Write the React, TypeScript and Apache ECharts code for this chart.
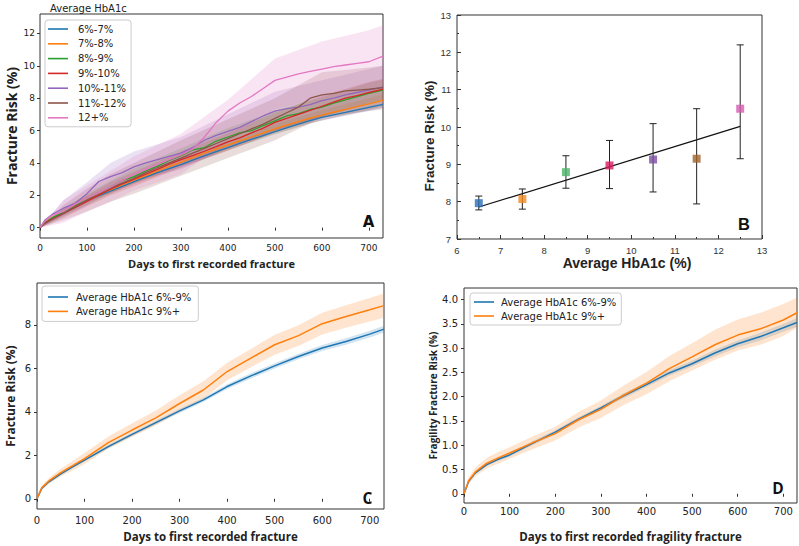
import React, { useEffect, useRef } from "react";
import * as echarts from "echarts";

// ---------- Panel A: fracture risk by HbA1c band ----------
const A_NAMES = ["6%-7%", "7%-8%", "8%-9%", "9%-10%", "10%-11%", "11%-12%", "12+%"];
const A_COLORS = ["#1f77b4", "#ff7f0e", "#2ca02c", "#d62728", "#9467bd", "#8c564b", "#e377c2"];
const A_DAYS = [0, 10, 25, 50, 75, 100, 125, 150, 175, 200, 225, 250, 275, 300, 325, 350, 375, 400, 425, 450, 475, 500, 525, 550, 575, 600, 625, 650, 675, 700, 730];
const A_6_7 = [0, 0.3, 0.58, 0.9, 1.3, 1.7, 1.98, 2.26, 2.55, 2.84, 3.12, 3.4, 3.65, 3.9, 4.17, 4.44, 4.69, 4.94, 5.2, 5.45, 5.69, 5.93, 6.17, 6.4, 6.61, 6.81, 6.97, 7.12, 7.28, 7.43, 7.61];
const A_7_8 = [0, 0.32, 0.62, 0.95, 1.36, 1.75, 2.05, 2.35, 2.65, 2.95, 3.22, 3.5, 3.78, 4.05, 4.33, 4.6, 4.85, 5.1, 5.36, 5.6, 5.85, 6.1, 6.33, 6.55, 6.76, 6.95, 7.13, 7.3, 7.48, 7.65, 7.86];
const A_8_9 = [0, 0.3, 0.6, 0.95, 1.35, 1.8, 2.1, 2.5, 2.9, 3.15, 3.5, 3.8, 4.15, 4.45, 4.8, 4.95, 5.35, 5.6, 5.85, 6.0, 6.3, 6.6, 6.9, 7.05, 7.3, 7.45, 7.7, 7.9, 8.1, 8.3, 8.5];
const A_9_10 = [0, 0.28, 0.52, 0.88, 1.25, 1.62, 2.0, 2.38, 2.7, 3.0, 3.3, 3.6, 3.92, 4.2, 4.45, 4.72, 5.0, 5.3, 5.55, 5.85, 6.15, 6.5, 6.75, 7.0, 7.25, 7.5, 7.75, 8.0, 8.15, 8.35, 8.56];
const A_10_11 = [0, 0.45, 0.8, 1.2, 1.5, 2.1, 2.85, 3.15, 3.4, 3.75, 4.0, 4.2, 4.4, 4.6, 4.95, 5.4, 5.7, 5.95, 6.2, 6.55, 6.9, 7.2, 7.35, 7.45, 7.6, 7.85, 8.0, 8.2, 8.35, 8.5, 8.7];
const A_11_12 = [0, 0.25, 0.5, 0.9, 1.3, 1.7, 2.1, 2.45, 2.75, 3.05, 3.4, 3.7, 4.0, 4.3, 4.6, 4.9, 5.2, 5.5, 5.8, 6.1, 6.4, 6.75, 7.1, 7.45, 8.0, 8.2, 8.3, 8.45, 8.5, 8.55, 8.65];
const A_12P = [0, 0.4, 0.75, 1.0, 1.45, 1.8, 2.15, 2.5, 2.9, 3.3, 3.6, 3.9, 4.2, 4.5, 4.85, 5.6, 6.5, 7.2, 7.7, 8.1, 8.6, 9.1, 9.3, 9.5, 9.65, 9.8, 9.95, 10.05, 10.15, 10.25, 10.6];

const A_BAND_DAYS = [0, 50, 100, 150, 200, 300, 400, 500, 600, 700, 730];
const A_LO_6_7 = [0, 0.8, 1.58, 2.12, 2.7, 3.75, 4.78, 5.77, 6.64, 7.25, 7.42];
const A_HI_6_7 = [0, 1.0, 1.82, 2.4, 2.98, 4.05, 5.1, 6.09, 6.98, 7.61, 7.8];
const A_LO_7_8 = [0, 0.8, 1.55, 2.12, 2.7, 3.78, 4.82, 5.8, 6.63, 7.3, 7.5];
const A_HI_7_8 = [0, 1.1, 1.95, 2.58, 3.2, 4.32, 5.38, 6.4, 7.27, 8.0, 8.22];
const A_LO_8_9 = [0, 0.7, 1.4, 2.1, 2.75, 3.9, 5.05, 6.0, 6.85, 7.65, 7.85];
const A_HI_8_9 = [0, 1.2, 2.1, 2.9, 3.65, 4.9, 6.15, 7.2, 8.05, 8.95, 9.15];
const A_LO_9_10 = [0, 0.6, 1.3, 2.0, 2.55, 3.7, 4.75, 5.9, 6.85, 7.7, 7.9];
const A_HI_9_10 = [0, 1.2, 2.0, 2.8, 3.45, 4.7, 5.85, 7.1, 8.15, 9.0, 9.2];
const A_LO_10_11 = [0, 0.7, 1.4, 2.3, 2.9, 3.6, 4.9, 6.0, 6.6, 7.2, 7.4];
const A_HI_10_11 = [0, 1.7, 2.8, 4.0, 4.7, 5.6, 7.0, 8.4, 9.1, 9.8, 10.0];
const A_LO_11_12 = [0, 0.45, 1.0, 1.6, 2.1, 3.2, 4.3, 5.4, 6.8, 7.2, 7.3];
const A_HI_11_12 = [0, 1.4, 2.4, 3.3, 4.0, 5.4, 6.7, 8.0, 9.6, 9.9, 10.0];
const A_LO_12P = [0, 0.3, 1.0, 1.6, 2.3, 3.3, 5.4, 7.3, 8.0, 8.5, 8.8];
const A_HI_12P = [0, 1.7, 2.6, 3.5, 4.4, 5.8, 7.9, 10.45, 11.5, 12.2, 12.5];

const A_LINES = [A_6_7, A_7_8, A_8_9, A_9_10, A_10_11, A_11_12, A_12P];
const A_LOWS = [A_LO_6_7, A_LO_7_8, A_LO_8_9, A_LO_9_10, A_LO_10_11, A_LO_11_12, A_LO_12P];
const A_HIGHS = [A_HI_6_7, A_HI_7_8, A_HI_8_9, A_HI_9_10, A_HI_10_11, A_HI_11_12, A_HI_12P];
const A_X_TICKS = [0, 100, 200, 300, 400, 500, 600, 700];
const A_Y_TICKS = [0, 2, 4, 6, 8, 10, 12];

// ---------- Panel B: risk vs average HbA1c ----------
const B_X = [6.5, 7.5, 8.5, 9.5, 10.5, 11.5, 12.5];
const B_RISK = [7.96, 8.07, 8.79, 8.97, 9.13, 9.15, 10.49];
const B_ERR_LOW = [7.78, 7.8, 8.36, 8.35, 8.26, 7.94, 9.15];
const B_ERR_HIGH = [8.15, 8.34, 9.23, 9.64, 10.09, 10.49, 12.2];
const B_COLORS = ["#2a6db5", "#f28a1e", "#4cb46a", "#d81b60", "#7d4ea3", "#a0642c", "#d45bb0"];

// ---------- Panels C and D ----------
const CD_NAMES = ["Average HbA1c 6%-9%", "Average HbA1c 9%+"];
const CD_COLORS = ["#1f77b4", "#ff7f0e"];
const CD_DAYS = [0, 10, 25, 50, 75, 100, 150, 200, 250, 300, 350, 400, 450, 500, 550, 600, 650, 700, 730];
const C_LOW_HBA = [0, 0.48, 0.78, 1.14, 1.47, 1.78, 2.4, 2.96, 3.5, 4.04, 4.55, 5.16, 5.65, 6.11, 6.54, 6.93, 7.23, 7.57, 7.8];
const C_HIGH_HBA = [0, 0.5, 0.82, 1.2, 1.52, 1.85, 2.58, 3.16, 3.72, 4.38, 5.0, 5.85, 6.47, 7.08, 7.5, 8.05, 8.38, 8.69, 8.88];
const C_LOW_HBA_LO = [0, 0.43, 0.73, 1.08, 1.41, 1.71, 2.32, 2.88, 3.41, 3.94, 4.45, 5.05, 5.53, 5.99, 6.41, 6.79, 7.08, 7.42, 7.64];
const C_LOW_HBA_HI = [0, 0.53, 0.83, 1.2, 1.53, 1.85, 2.48, 3.04, 3.59, 4.14, 4.65, 5.27, 5.77, 6.23, 6.67, 7.07, 7.38, 7.72, 7.96];
const C_HIGH_HBA_LO = [0, 0.4, 0.68, 1.02, 1.3, 1.6, 2.3, 2.85, 3.38, 4.0, 4.6, 5.45, 6.05, 6.62, 7.02, 7.55, 7.86, 8.15, 8.32];
const C_HIGH_HBA_HI = [0, 0.6, 0.96, 1.38, 1.74, 2.1, 2.86, 3.47, 4.06, 4.76, 5.4, 6.25, 6.89, 7.54, 7.98, 8.55, 8.9, 9.23, 9.44];
const C_Y_TICKS = [0, 2, 4, 6, 8];

const D_LOW_HBA = [0, 0.25, 0.43, 0.6, 0.71, 0.8, 1.04, 1.27, 1.53, 1.77, 2.02, 2.25, 2.49, 2.68, 2.9, 3.09, 3.24, 3.42, 3.53];
const D_HIGH_HBA = [0, 0.27, 0.45, 0.63, 0.74, 0.84, 1.05, 1.24, 1.52, 1.74, 2.03, 2.28, 2.58, 2.82, 3.07, 3.27, 3.4, 3.58, 3.73];
const D_LOW_HBA_LO = [0, 0.23, 0.4, 0.57, 0.68, 0.77, 1.0, 1.23, 1.49, 1.73, 1.97, 2.2, 2.43, 2.62, 2.83, 3.02, 3.16, 3.34, 3.44];
const D_LOW_HBA_HI = [0, 0.27, 0.46, 0.63, 0.74, 0.83, 1.08, 1.31, 1.57, 1.81, 2.07, 2.3, 2.55, 2.74, 2.97, 3.16, 3.32, 3.5, 3.62];
const D_HIGH_HBA_LO = [0, 0.2, 0.36, 0.52, 0.62, 0.72, 0.92, 1.1, 1.36, 1.56, 1.83, 2.05, 2.32, 2.54, 2.76, 2.95, 3.07, 3.25, 3.42];
const D_HIGH_HBA_HI = [0, 0.34, 0.54, 0.74, 0.86, 0.96, 1.18, 1.38, 1.68, 1.92, 2.23, 2.51, 2.84, 3.1, 3.38, 3.59, 3.73, 3.91, 4.04];
const D_Y_TICKS = [0, 0.5, 1, 1.5, 2, 2.5, 3, 3.5, 4];

const MPL_FONT = "DejaVu Sans";
const TITLE_FONT = "Open Sans";
const ARIAL = "Liberation Sans";
const INK = "#222";

function band(idx: number, days: number[], lo: number[], hi: number[], color: string, opacity: number) {
  return {
    type: "custom",
    xAxisIndex: idx,
    yAxisIndex: idx,
    silent: true,
    z: 1,
    data: [[days[0], lo[0]]],
    renderItem: (_p: any, api: any) => {
      const pts: number[][] = [];
      for (let i = 0; i < days.length; i++) pts.push(api.coord([days[i], hi[i]]));
      for (let i = days.length - 1; i >= 0; i--) pts.push(api.coord([days[i], lo[i]]));
      return { type: "polygon", shape: { points: pts }, style: { fill: color, opacity } };
    },
  };
}

function line(idx: number, name: string, days: number[], vals: number[], color: string, width: number) {
  return {
    type: "line",
    name,
    xAxisIndex: idx,
    yAxisIndex: idx,
    data: days.map((d, i) => [d, vals[i]]),
    symbol: "none",
    showSymbol: false,
    lineStyle: { width, color },
    itemStyle: { color },
    z: 3,
  };
}

function mplX(idx: number, name: string, nameGap: number, nameSize: number, labelSize: number, margin: number) {
  return {
    type: "value",
    gridIndex: idx,
    min: 0,
    max: 730,
    name,
    nameLocation: "middle",
    nameGap,
    nameTextStyle: { fontFamily: TITLE_FONT, fontWeight: "bold", fontSize: nameSize, color: INK },
    axisLine: { show: false },
    axisTick: { show: true, length: 3, lineStyle: { color: "#333" }, customValues: A_X_TICKS },
    axisLabel: { fontFamily: MPL_FONT, fontSize: labelSize, color: INK, margin, customValues: A_X_TICKS },
    splitLine: { show: false },
  };
}

function mplY(idx: number, min: number, max: number, ticks: number[], name: string, nameGap: number, nameSize: number, labelSize: number, margin: number, fmt?: (v: number) => string) {
  return {
    type: "value",
    gridIndex: idx,
    min,
    max,
    name,
    nameLocation: "middle",
    nameGap,
    nameTextStyle: { fontFamily: TITLE_FONT, fontWeight: "bold", fontSize: nameSize, color: INK },
    axisLine: { show: false },
    axisTick: { show: true, length: 3, lineStyle: { color: "#333" }, customValues: ticks },
    axisLabel: { fontFamily: MPL_FONT, fontSize: labelSize, color: INK, margin, customValues: ticks, formatter: fmt },
    splitLine: { show: false },
  };
}

function legendBox(names: string[], left: number, top: number, padding: number[], itemGap: number, textPad: number) {
  return {
    data: names,
    left,
    top,
    orient: "vertical",
    icon: "rect",
    itemWidth: 20,
    itemHeight: 1.6,
    itemGap,
    padding,
    borderColor: "#cccccc",
    borderWidth: 1,
    borderRadius: 3,
    backgroundColor: "rgba(255,255,255,0.85)",
    selectedMode: false,
    textStyle: { fontFamily: MPL_FONT, fontSize: 10, color: INK, lineHeight: 12, padding: [0, 0, 0, textPad] },
  };
}

function buildOption() {
  // regression line for panel B (least squares through the plotted means)
  const n = B_X.length;
  const mx = B_X.reduce((s, v) => s + v, 0) / n;
  const my = B_RISK.reduce((s, v) => s + v, 0) / n;
  let sxy = 0;
  let sxx = 0;
  for (let i = 0; i < n; i++) {
    sxy += (B_X[i] - mx) * (B_RISK[i] - my);
    sxx += (B_X[i] - mx) * (B_X[i] - mx);
  }
  const slope = sxy / sxx;
  const icpt = my - slope * mx;
  const fitX = [B_X[0], B_X[n - 1]];

  const series: any[] = [];
  // Panel A
  A_NAMES.forEach((nm, i) => series.push(band(0, A_BAND_DAYS, A_LOWS[i], A_HIGHS[i], A_COLORS[i], 0.2)));
  A_NAMES.forEach((nm, i) => series.push(line(0, nm, A_DAYS, A_LINES[i], A_COLORS[i], 1.3)));

  // Panel B
  series.push({
    type: "line",
    xAxisIndex: 1,
    yAxisIndex: 1,
    data: fitX.map((x) => [x, icpt + slope * x]),
    symbol: "none",
    lineStyle: { color: "#111", width: 1.2 },
    z: 2,
  });
  series.push({
    type: "custom",
    xAxisIndex: 1,
    yAxisIndex: 1,
    z: 3,
    data: B_X.map((x, i) => [x, B_ERR_LOW[i], B_ERR_HIGH[i]]),
    encode: { x: 0, y: [1, 2] },
    renderItem: (_p: any, api: any) => {
      const x = api.value(0);
      const lo = api.coord([x, api.value(1)]);
      const hi = api.coord([x, api.value(2)]);
      const w = 3.5;
      const st = { stroke: "#222", lineWidth: 1 };
      return {
        type: "group",
        children: [
          { type: "line", shape: { x1: lo[0], y1: lo[1], x2: hi[0], y2: hi[1] }, style: st },
          { type: "line", shape: { x1: lo[0] - w, y1: lo[1], x2: lo[0] + w, y2: lo[1] }, style: st },
          { type: "line", shape: { x1: hi[0] - w, y1: hi[1], x2: hi[0] + w, y2: hi[1] }, style: st },
        ],
      };
    },
  });
  series.push({
    type: "scatter",
    xAxisIndex: 1,
    yAxisIndex: 1,
    symbol: "rect",
    symbolSize: 8,
    z: 4,
    data: B_X.map((x, i) => ({ value: [x, B_RISK[i]], itemStyle: { color: B_COLORS[i] } })),
  });

  // Panel C
  series.push(band(2, CD_DAYS, C_LOW_HBA_LO, C_LOW_HBA_HI, CD_COLORS[0], 0.2));
  series.push(band(2, CD_DAYS, C_HIGH_HBA_LO, C_HIGH_HBA_HI, CD_COLORS[1], 0.2));
  series.push(line(2, CD_NAMES[0], CD_DAYS, C_LOW_HBA, CD_COLORS[0], 1.5));
  series.push(line(2, CD_NAMES[1], CD_DAYS, C_HIGH_HBA, CD_COLORS[1], 1.5));

  // Panel D
  series.push(band(3, CD_DAYS, D_LOW_HBA_LO, D_LOW_HBA_HI, CD_COLORS[0], 0.2));
  series.push(band(3, CD_DAYS, D_HIGH_HBA_LO, D_HIGH_HBA_HI, CD_COLORS[1], 0.2));
  series.push(line(3, CD_NAMES[0], CD_DAYS, D_LOW_HBA, CD_COLORS[0], 1.5));
  series.push(line(3, CD_NAMES[1], CD_DAYS, D_HIGH_HBA, CD_COLORS[1], 1.5));

  const frame = { show: true, borderColor: "#333", borderWidth: 1, backgroundColor: "transparent" };

  return {
    animation: false,
    backgroundColor: "#ffffff",
    title: [
      { text: "Average HbA1c", left: 50, top: 1, padding: 0, textStyle: { fontFamily: MPL_FONT, fontSize: 10, fontWeight: "normal", color: INK, lineHeight: 14 } },
    ],
    grid: [
      { left: 40, top: 14, width: 343, height: 224, ...frame },
      { left: 457, top: 15, width: 305, height: 224, ...frame },
      { left: 37, top: 283, width: 347, height: 226, ...frame },
      { left: 464, top: 288, width: 333, height: 215, ...frame },
    ],
    xAxis: [
      mplX(0, "Days to first recorded fracture", 20, 11, 9, 5),
      {
        type: "value",
        gridIndex: 1,
        min: 6,
        max: 13,
        interval: 1,
        name: "Average HbA1c (%)",
        nameLocation: "middle",
        nameGap: 17,
        nameTextStyle: { fontFamily: ARIAL, fontWeight: "bold", fontSize: 14, color: INK, padding: [0, 0, 0, 35] },
        axisLine: { show: false },
        axisTick: { show: true, inside: true, length: 4, lineStyle: { color: "#333" } },
        minorTick: { show: true, splitNumber: 2, length: 2, lineStyle: { color: "#333" } },
        axisLabel: { fontFamily: ARIAL, fontSize: 9.5, color: "#333", margin: 6 },
        splitLine: { show: false },
      },
      mplX(2, "Days to first recorded fracture", 21, 11.5, 10, 6),
      mplX(3, "Days to first recorded fragility fracture", 27, 11.5, 10, 3),
    ],
    yAxis: [
      mplY(0, -0.64, 13.2, A_Y_TICKS, "Fracture Risk (%)", 22, 14, 9, 5),
      {
        type: "value",
        gridIndex: 1,
        min: 7,
        max: 13,
        interval: 1,
        name: "Fracture Risk (%)",
        nameLocation: "middle",
        nameGap: 20,
        nameTextStyle: { fontFamily: ARIAL, fontWeight: "bold", fontSize: 13.5, color: INK, padding: [0, 18, 0, 0] },
        axisLine: { show: false },
        axisTick: { show: true, inside: true, length: 4, lineStyle: { color: "#333" } },
        minorTick: { show: true, splitNumber: 2, length: 2, lineStyle: { color: "#333" } },
        axisLabel: { fontFamily: ARIAL, fontSize: 9.5, color: "#333", margin: 6 },
        splitLine: { show: false },
      },
      mplY(2, -0.47, 9.92, C_Y_TICKS, "Fracture Risk (%)", 21, 12, 10, 6),
      mplY(3, -0.19, 4.24, D_Y_TICKS, "Fragility Fracture Risk (%)", 25, 10, 10, 6, (v: number) => (v === 0 ? "0" : v.toFixed(1))),
    ],
    legend: [
      legendBox(A_NAMES, 45, 20, [3, 5, 3, 3], 2.8, 5),
      legendBox(CD_NAMES, 42, 286, [5, 7, 4, 6], 2.4, 3),
      legendBox(CD_NAMES, 470, 293, [3, 5, 3, 4], 2, 2),
    ],
    graphic: [
      { type: "text", x: 368.5, y: 222, style: { text: "A", font: "bold 15px 'DejaVu Sans'", fill: "#111", align: "center", verticalAlign: "middle" } },
      { type: "text", x: 744, y: 224, style: { text: "B", font: "bold 16.5px 'Liberation Sans'", fill: "#111", align: "center", verticalAlign: "middle" } },
      { type: "text", x: 367.5, y: 498, style: { text: "C", font: "bold 15.5px 'Open Sans'", fill: "#111", align: "center", verticalAlign: "middle" } },
      { type: "text", x: 778, y: 488, style: { text: "D", font: "bold 15.5px 'Open Sans'", fill: "#111", align: "center", verticalAlign: "middle" } },
    ],
    series,
  };
}

export default function App() {
  const ref = useRef<HTMLDivElement>(null);
  useEffect(() => {
    if (!ref.current) return;
    const chart = echarts.init(ref.current, null, { renderer: "svg" });
    chart.setOption(buildOption() as any);
    return () => chart.dispose();
  }, []);
  return <div ref={ref} style={{ position: "fixed", left: 0, top: 0, width: 799, height: 546, background: "#fff" }} />;
}
